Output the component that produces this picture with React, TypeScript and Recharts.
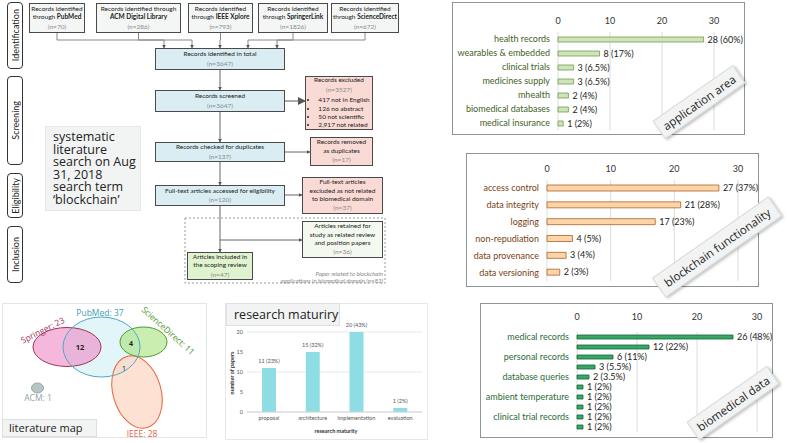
import React from "react";
import { BarChart, Bar, XAxis, YAxis, CartesianGrid, LabelList } from "recharts";

// ---- chart data ----
const areaNames = ["health records", "wearables & embedded", "clinical trials", "medicines supply", "mhealth", "biomedical databases", "medical insurance"];
const areaCounts = [28, 8, 3, 3, 2, 2, 1];
const areaShares = ["60%", "17%", "6.5%", "6.5%", "4%", "4%", "2%"];

const funcNames = ["access control", "data integrity", "logging", "non-repudiation", "data provenance", "data versioning"];
const funcCounts = [27, 21, 17, 4, 3, 2];
const funcShares = ["37%", "28%", "23%", "5%", "4%", "3%"];

const bioNames = ["medical records", "", "personal records", "", "database queries", "", "ambient temperature", "", "clinical trial records", ""];
const bioCounts = [26, 12, 6, 3, 2, 1, 1, 1, 1, 1];
const bioShares = ["48%", "22%", "11%", "5.5%", "3.5%", "2%", "2%", "2%", "2%", "2%"];

const maturityNames = ["proposal", "architecture", "implementation", "evaluation"];
const maturityCounts = [11, 15, 20, 1];
const maturityShares = ["23%", "32%", "43%", "2%"];

const countTicks = [0, 10, 20, 30];
const maturityTicks = [0, 5, 10, 15, 20];

// ---- flow diagram / venn text ----
const sourcePre = ["Records identified", "Records identified through", "Records identified", "Records identified", "Records identified"];
const sourceNames = ["PubMed", "ACM Digital Library", "IEEE Xplore", "SpringerLink", "ScienceDirect"];
const sourceCounts = [70, 286, 793, 1826, 672];
const excludedReasons = ["417 not in English", "126 no abstract", "50 not scientific", "2,917 not related"];
const vennLabels = ["Springer: 23", "PubMed: 37", "ScienceDirect: 11", "IEEE: 28", "ACM: 1"];
const vennOverlaps = ["12", "4", "1"];

const rows = (names: string[], counts: number[], shares: string[]) =>
  names.map((name, i) => ({ key: "r" + i, name, count: counts[i], label: `${counts[i]} (${shares[i]})` }));

const areaData = rows(areaNames, areaCounts, areaShares);
const funcData = rows(funcNames, funcCounts, funcShares);
const bioData = rows(bioNames, bioCounts, bioShares);
const maturityData = rows(maturityNames, maturityCounts, maturityShares);

const FONT = "Lato, 'Open Sans', sans-serif";

type Row = { key: string; name: string; count: number; label: string };
type HBarProps = {
  data: Row[];
  left: number; top: number; width: number; height: number;
  margin: { top: number; right: number; bottom: number; left: number };
  yWidth: number; barSize: number; fill: string; stroke: string; nameColor: string; xTickMargin?: number;
};

const HBar = ({ data, left, top, width, height, margin, yWidth, barSize, fill, stroke, nameColor, xTickMargin = 2 }: HBarProps) => {
  const nameTick = (p: any) => (
    <text x={p.x} y={p.y} dy={3} textAnchor="end" fontSize={9} fill={nameColor} fontFamily={FONT}>
      {data.find((d) => d.key === p.payload.value)?.name ?? ""}
    </text>
  );
  const valueLabel = (p: any) => (
    <text x={p.x + p.width + 4} y={p.y + p.height / 2} dy={3} fontSize={9} fill="#222" fontFamily={FONT}>{p.value}</text>
  );
  return (
    <div style={{ position: "absolute", left, top, width, height, boxSizing: "border-box", border: "1px solid #8c9696" }}>
      <div style={{ position: "absolute", left: -1, top: -1 }}>
        <BarChart width={width} height={height} data={data} layout="vertical" margin={margin}>
          <CartesianGrid horizontal={false} stroke="#dcdcdc" />
          <XAxis type="number" orientation="top" domain={[0, 30]} ticks={countTicks} height={20}
            axisLine={false} tickLine={false} tickMargin={xTickMargin} tick={{ fontSize: 9, fill: "#333", fontFamily: FONT }} />
          <YAxis type="category" dataKey="key" width={yWidth} interval={0} axisLine={false} tickLine={false} tick={nameTick} />
          <Bar dataKey="count" fill={fill} stroke={stroke} strokeWidth={0.8} barSize={barSize} isAnimationActive={false}>
            <LabelList dataKey="label" content={valueLabel} />
          </Bar>
        </BarChart>
      </div>
    </div>
  );
};

const Stamp = ({ cx, cy, w, h, text }: { cx: number; cy: number; w: number; h: number; text: string }) => (
  <div style={{
    position: "absolute", left: cx - w / 2, top: cy - h / 2, width: w, height: h, transform: "rotate(-35deg)",
    background: "#f2f3f3", border: "1px solid #dadada", boxShadow: "1px 2px 3px rgba(0,0,0,0.25)",
    display: "flex", alignItems: "center", justifyContent: "center", fontSize: 11.5, color: "#222",
    fontFamily: "'Open Sans', sans-serif", whiteSpace: "nowrap",
  }}>{text}</div>
);

const Box = ({ x, y, w, h, bg, children }: { x: number; y: number; w: number; h: number; bg: string; children: React.ReactNode }) => (
  <div style={{
    position: "absolute", left: x, top: y, width: w, height: h, boxSizing: "border-box", border: "1px solid #4a4a4a",
    background: bg, display: "flex", flexDirection: "column", alignItems: "center", justifyContent: "center",
    textAlign: "center", fontSize: 6.5, lineHeight: "8.4px", color: "#222", fontFamily: FONT, whiteSpace: "nowrap",
  }}>{children}</div>
);

const N = ({ n }: { n: number | string }) => <div style={{ color: "#8a8a8a", marginTop: 1 }}>(n={n})</div>;

const Phase = ({ y, h, text }: { y: number; h: number; text: string }) => (
  <div style={{
    position: "absolute", left: 7, top: y, width: 16, height: h, boxSizing: "border-box", border: "1px solid #333",
    borderRadius: 4, display: "flex", alignItems: "center", justifyContent: "center",
  }}>
    <span style={{ writingMode: "vertical-rl", transform: "rotate(180deg)", fontSize: 9, fontFamily: FONT, color: "#222" }}>{text}</span>
  </div>
);

const srcBoxes = [
  { x: 29, w: 56 }, { x: 96, w: 85 }, { x: 188, w: 65 }, { x: 258, w: 70 }, { x: 331, w: 68 },
];
const srcTargets = [164, 192, 220, 248, 277];

const maturityLabel = (p: any) => (
  <text x={p.x + p.width / 2} y={p.y - 5} textAnchor="middle" fontSize={5.5} fill="#555" fontFamily={FONT}>{p.value}</text>
);

export default function App() {
  return (
    <div style={{ position: "relative", width: 787, height: 443, background: "#fff", overflow: "hidden", fontFamily: FONT }}>
      <style>{"body{margin:0}"}</style>

      {/* flow lines */}
      <svg width={787} height={443} style={{ position: "absolute", left: 0, top: 0 }}>
        <defs>
          <marker id="ah" markerWidth="4" markerHeight="4" refX="3.5" refY="2" orient="auto">
            <path d="M0,0 L4,2 L0,4 z" fill="#555" />
          </marker>
        </defs>
        {srcBoxes.map((b, i) => (
          <polyline key={i} fill="none" stroke="#888" strokeWidth={1} markerEnd="url(#ah)"
            points={`${b.x + b.w / 2},33 ${b.x + b.w / 2},40 ${srcTargets[i]},40 ${srcTargets[i]},48`} />
        ))}
        <line x1={220} y1={70} x2={220} y2={90} stroke="#666" markerEnd="url(#ah)" />
        <line x1={285} y1={101} x2={305} y2={101} stroke="#aaa" strokeWidth={2} markerEnd="url(#ah)" />
        <line x1={220} y1={112} x2={220} y2={142} stroke="#666" markerEnd="url(#ah)" />
        <line x1={285} y1={152} x2={310} y2={152} stroke="#666" markerEnd="url(#ah)" />
        <line x1={220} y1={162} x2={220} y2={185} stroke="#666" markerEnd="url(#ah)" />
        <line x1={285} y1={195} x2={302} y2={195} stroke="#666" markerEnd="url(#ah)" />
        <line x1={220} y1={206} x2={220} y2={252} stroke="#666" markerEnd="url(#ah)" />
        <line x1={220} y1={240} x2={302} y2={240} stroke="#666" markerEnd="url(#ah)" />
        <rect x={185} y={218} width={200} height={65} fill="none" stroke="#999" strokeDasharray="2 2" />
      </svg>

      <Phase y={2} h={67} text="Identification" />
      <Phase y={76} h={89} text="Screening" />
      <Phase y={173} h={45} text="Eligibility" />
      <Phase y={226} h={57} text="Inclusion" />

      {srcBoxes.map((b, i) => (
        <Box key={i} x={b.x} y={3} w={b.w} h={30} bg="#f4f6f6">
          <div>{sourcePre[i]}</div>
          {i === 1 ? <div><b>{sourceNames[i]}</b></div> : <div>through <b>{sourceNames[i]}</b></div>}
          <N n={sourceCounts[i]} />
        </Box>
      ))}
      <Box x={155} y={48} w={130} h={22} bg="#d9edf3"><div>Records identified in total</div><N n={3647} /></Box>
      <Box x={155} y={90} w={130} h={22} bg="#d9edf3"><div>Records screened</div><N n={3647} /></Box>
      <Box x={155} y={142} w={130} h={20} bg="#d9edf3"><div>Records checked for duplicates</div><N n={137} /></Box>
      <Box x={155} y={185} w={130} h={21} bg="#d9edf3"><div>Full-text articles accessed for eligibility</div><N n={120} /></Box>
      <Box x={305} y={76} w={68} h={54} bg="#f9dad5">
        <div>Records excluded</div><N n={3527} />
        <ul style={{ margin: "2px 0 0 0", paddingLeft: 10, textAlign: "left" }}>
          {excludedReasons.map((r) => <li key={r}>{r}</li>)}
        </ul>
      </Box>
      <Box x={310} y={137} w={63} h={29} bg="#f9dad5"><div>Records removed</div><div>as duplicates</div><N n={17} /></Box>
      <Box x={302} y={177} w={81} h={37} bg="#f9dad5"><div>Full-text articles</div><div>excluded as not related</div><div>to biomedical domain</div><N n={37} /></Box>
      <Box x={302} y={221} w={81} h={37} bg="#f3f9ee"><div>Articles retained for</div><div>study as related review</div><div>and position papers</div><N n={36} /></Box>
      <Box x={187} y={252} w={66} h={28} bg="#dff3cf"><div>Articles included in</div><div>the scoping review</div><N n={47} /></Box>
      <div style={{ position: "absolute", left: 250, top: 270, width: 133, textAlign: "right", fontSize: 6, lineHeight: "7px", fontStyle: "italic", color: "#8a8a8a" }}>
        Paper related to blockchain<br />applications in biomedical domain (n=83)
      </div>

      <div style={{
        position: "absolute", left: 45, top: 126, width: 96, height: 85, boxSizing: "border-box", background: "#f2f4f4",
        border: "1px solid #e4e8e8", padding: "4px 0 0 7px", fontSize: 12.5, lineHeight: "12.6px", color: "#222", fontFamily: "'Open Sans', sans-serif",
      }}>
        systematic literature search on Aug 31, 2018 search term ‘blockchain’
      </div>

      {/* literature map */}
      <div style={{ position: "absolute", left: 2, top: 303, width: 205, height: 135, boxSizing: "border-box", border: "1px solid #e3e6e6" }} />
      <svg width={787} height={443} style={{ position: "absolute", left: 0, top: 0 }}>
        <ellipse cx={101.5} cy={347} rx={38.5} ry={30} fill="#e2f5f9" />
        <ellipse cx={67} cy={347} rx={34} ry={19.5} fill="#ee88c4" fillOpacity={0.6} stroke="#a53355" strokeWidth={1} />
        <ellipse cx={143.5} cy={342} rx={23.5} ry={15} fill="#a6e27a" fillOpacity={0.6} stroke="#4b9a2c" strokeWidth={1} />
        <ellipse cx={137} cy={392} rx={24} ry={37} transform="rotate(-16 137 392)" fill="#fcd6c2" fillOpacity={0.7} stroke="#e8623c" strokeWidth={1} />
        <ellipse cx={101.5} cy={347} rx={38.5} ry={30} fill="none" stroke="#4fa9c4" strokeWidth={1} />
        <ellipse cx={37.5} cy={388} rx={6} ry={5} fill="#b9c4c4" stroke="#9aa8a8" />
        <g fontFamily="'Open Sans', sans-serif" fontSize={8.5}>
          <text x={44} y={333} fill="#a53355" textAnchor="middle" transform="rotate(-27 44 333)">{vennLabels[0]}</text>
          <text x={100} y={316} fill="#3f9ab8" textAnchor="middle">{vennLabels[1]}</text>
          <text x={166} y={333} fill="#4b9a2c" textAnchor="middle" transform="rotate(42 166 333)">{vennLabels[2]}</text>
          <text x={142} y={437} fill="#e8623c" textAnchor="middle">{vennLabels[3]}</text>
          <text x={38} y={401} fill="#8fa3a8" textAnchor="middle">{vennLabels[4]}</text>
          <text x={80} y={350} fill="#222" fontWeight="bold" textAnchor="middle" fontSize={7.5}>{vennOverlaps[0]}</text>
          <text x={131} y={346} fill="#222" fontWeight="bold" textAnchor="middle" fontSize={7}>{vennOverlaps[1]}</text>
          <text x={124} y={371} fill="#222" textAnchor="middle" fontSize={7}>{vennOverlaps[2]}</text>
        </g>
      </svg>
      <div style={{
        position: "absolute", left: 2, top: 419, width: 95, height: 18, boxSizing: "border-box", background: "#f2f3f3",
        border: "1px solid #dde0e0", fontSize: 11, lineHeight: "16px", paddingLeft: 6, fontFamily: "'Open Sans', sans-serif", color: "#222",
      }}>literature map</div>

      {/* research maturity */}
      <div style={{ position: "absolute", left: 225, top: 303, width: 203, height: 137, boxSizing: "border-box", border: "1px solid #e6e8e8" }}>
        <div style={{ position: "absolute", left: -1, top: -1 }}>
          <BarChart width={203} height={137} data={maturityData} margin={{ top: 29, right: 6, bottom: 0, left: 8 }}>
            <CartesianGrid vertical={false} stroke="#e8e8e8" />
            <XAxis dataKey="name" height={28} interval={0} axisLine={{ stroke: "#d4d4d4" }} tickLine={false} tickSize={0} tickMargin={4}
              tick={{ fontSize: 5.5, fill: "#555", fontFamily: FONT }} />
            <YAxis domain={[0, 20]} ticks={maturityTicks} width={14} axisLine={false} tickLine={false} tickSize={2} tickMargin={2}
              tick={{ fontSize: 5.5, fill: "#555", fontFamily: FONT }} />
            <Bar dataKey="count" fill="#8edde4" barSize={14} isAnimationActive={false}>
              <LabelList dataKey="label" content={maturityLabel} />
            </Bar>
          </BarChart>
        </div>
        <div style={{ position: "absolute", left: 0, top: -1, width: 114, height: 23, boxSizing: "border-box", background: "#f2f3f3", border: "1px solid #dde0e0", fontSize: 12.5, lineHeight: "21px", paddingLeft: 7, fontFamily: "'Open Sans', sans-serif", color: "#222", whiteSpace: "nowrap" }}>
          research maturiry
        </div>
        <div style={{ position: "absolute", left: 78, top: 124, width: 64, textAlign: "center", fontSize: 5.5, fontWeight: "bold", color: "#333", whiteSpace: "nowrap" }}>research maturity</div>
        <div style={{ position: "absolute", left: 6, top: 69, fontSize: 5.5, fontWeight: "bold", color: "#333", transform: "translate(-50%,-50%) rotate(-90deg)", whiteSpace: "nowrap" }}>number of papers</div>
      </div>

      <HBar data={areaData} left={452} top={2} width={293} height={133} margin={{ top: 10, right: 31, bottom: 5, left: 6 }}
        yWidth={100} barSize={5} fill="#cfe4bb" stroke="#6e9a52" nameColor="#3f5f25" />
      <HBar data={funcData} left={466} top={153} width={293} height={134} margin={{ top: 7, right: 21, bottom: 6, left: 6 }}
        yWidth={75} barSize={6} fill="#fbd4a8" stroke="#b0602a" nameColor="#7a3f14" />
      <HBar data={bioData} left={480} top={303} width={293} height={135} margin={{ top: 9, right: 16, bottom: 6, left: 6 }}
        yWidth={91} barSize={4} fill="#35a866" stroke="#17633a" nameColor="#2c6b3a" xTickMargin={6} />

      <Stamp cx={698} cy={101} w={96} h={20} text="application area" />
      <Stamp cx={716} cy={246} w={140} h={22} text="blockchain functionality" />
      <Stamp cx={732} cy={402} w={96} h={20} text="biomedical data" />
    </div>
  );
}
